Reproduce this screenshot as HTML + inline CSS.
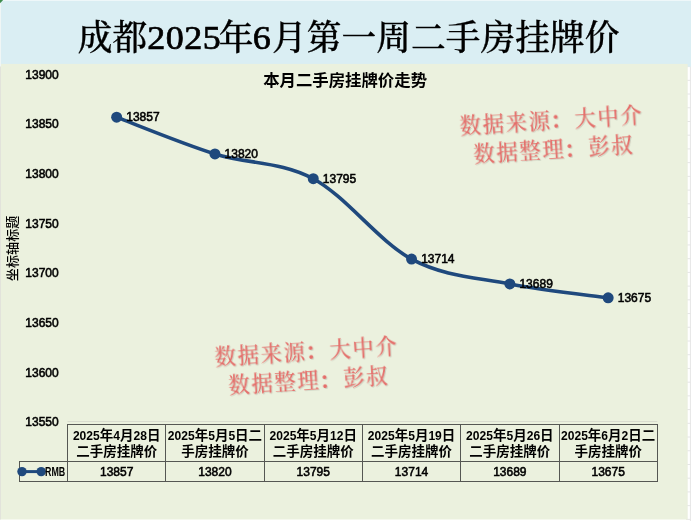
<!DOCTYPE html>
<html lang="zh-CN"><head><meta charset="utf-8"><title>成都2025年6月第一周二手房挂牌价</title>
<style>html,body{margin:0;padding:0;background:#fff;}body{width:691px;height:521px;overflow:hidden;}svg{display:block;}
.ax{font-family:'Liberation Sans','Noto Sans CJK SC',sans-serif;font-size:12px;fill:#000;stroke:#000;stroke-width:0.55px;}
.hd{font-family:'Liberation Sans','Noto Sans CJK SC',sans-serif;font-size:13.5px;font-weight:bold;fill:#000;}
.hn{font-family:'Liberation Sans','Noto Sans CJK SC',sans-serif;font-size:13.5px;font-weight:bold;fill:#000;}
.wm{font-family:'Liberation Serif','Noto Serif CJK SC',serif;font-size:21.6px;font-weight:500;letter-spacing:1.4px;fill:#e56e6a;}
.tt{font-family:'Liberation Serif','Noto Serif CJK SC',serif;font-size:34.74px;font-weight:500;fill:#000;stroke:#000;stroke-width:0.3px;}.tn{font-family:'Liberation Serif','Noto Serif CJK SC',serif;font-size:34px;letter-spacing:0.45px;font-weight:normal;fill:#000;stroke:#000;stroke-width:0.7px;}
.cl{font-weight:700;}
</style></head><body>
<svg width="691" height="521" viewBox="0 0 691 521">
<defs><filter id="glow" x="-5%" y="-20%" width="110%" height="140%"><feGaussianBlur in="SourceAlpha" stdDeviation="0.7" result="b"/><feOffset in="b" dx="0.9" dy="0.9" result="o"/><feFlood flood-color="#8a8f84" flood-opacity="0.3"/><feComposite in2="o" operator="in" result="sh"/><feMerge><feMergeNode in="sh"/><feMergeNode in="SourceGraphic"/></feMerge></filter></defs>
<rect width="691" height="521" fill="#ffffff"/>
<g stroke="#e6e6e6" stroke-width="1"><line x1="686" x2="691" y1="66.60" y2="66.60"/><line x1="686" x2="691" y1="80.32" y2="80.32"/><line x1="686" x2="691" y1="94.04" y2="94.04"/><line x1="686" x2="691" y1="107.76" y2="107.76"/><line x1="686" x2="691" y1="121.48" y2="121.48"/><line x1="686" x2="691" y1="135.20" y2="135.20"/><line x1="686" x2="691" y1="148.92" y2="148.92"/><line x1="686" x2="691" y1="162.64" y2="162.64"/><line x1="686" x2="691" y1="176.36" y2="176.36"/><line x1="686" x2="691" y1="190.08" y2="190.08"/><line x1="686" x2="691" y1="203.80" y2="203.80"/><line x1="686" x2="691" y1="217.52" y2="217.52"/><line x1="686" x2="691" y1="231.24" y2="231.24"/><line x1="686" x2="691" y1="244.96" y2="244.96"/><line x1="686" x2="691" y1="258.68" y2="258.68"/><line x1="686" x2="691" y1="272.40" y2="272.40"/><line x1="686" x2="691" y1="286.12" y2="286.12"/><line x1="686" x2="691" y1="299.84" y2="299.84"/><line x1="686" x2="691" y1="313.56" y2="313.56"/><line x1="686" x2="691" y1="327.28" y2="327.28"/><line x1="686" x2="691" y1="341.00" y2="341.00"/><line x1="686" x2="691" y1="354.72" y2="354.72"/><line x1="686" x2="691" y1="368.44" y2="368.44"/><line x1="686" x2="691" y1="382.16" y2="382.16"/><line x1="686" x2="691" y1="395.88" y2="395.88"/><line x1="686" x2="691" y1="409.60" y2="409.60"/><line x1="686" x2="691" y1="423.32" y2="423.32"/><line x1="686" x2="691" y1="437.04" y2="437.04"/><line x1="686" x2="691" y1="450.76" y2="450.76"/><line x1="686" x2="691" y1="464.48" y2="464.48"/><line x1="686" x2="691" y1="478.20" y2="478.20"/><line x1="686" x2="691" y1="491.92" y2="491.92"/><line x1="686" x2="691" y1="505.64" y2="505.64"/><line x1="686" x2="691" y1="519.36" y2="519.36"/><line x1="690.4" x2="690.4" y1="66" y2="521"/></g>
<rect x="0" y="0" width="691" height="66.7" fill="#daeef3"/>
<rect x="0" y="0" width="691" height="1" fill="#eef7f9"/>
<rect x="0" y="63.9" width="687.3" height="455.6" fill="#ebf1de"/>
<rect x="0" y="0" width="1" height="66.6" fill="#f0f6f5"/>
<rect x="0" y="66.6" width="1" height="452.9" fill="#e2e3db"/>
<rect x="686.6" y="64" width="1" height="455.5" fill="#eaefdf"/>
<path d="M0,0 H3.2 L0,3.2 Z" fill="#1f7a30" opacity="0.85"/>
<text class="tt" x="77.75" y="49.60">成都</text>
<text class="tn" transform="translate(147.2,49.00) scale(1.06,1)">2025</text>
<text class="tt" x="218.7" y="49.60">年</text>
<text class="tn" transform="translate(252.7,49.00) scale(1.06,1)">6</text>
<text class="tt" x="272.05" y="49.60">月第一周二手房挂牌价</text>
<text x="345.1" y="86.1" text-anchor="middle" style="font-family:'Liberation Sans','Noto Sans CJK SC',sans-serif;font-size:16.4px;font-weight:bold;fill:#000;">本月二手房挂牌价走势</text>
<text transform="translate(16.5,248.4) rotate(-90)" text-anchor="middle" style="font-family:'Liberation Sans','Noto Sans CJK SC',sans-serif;font-size:13px;font-weight:500;letter-spacing:0.1px;fill:#000;">坐标轴标题</text>
<text class="ax" x="58.7" y="78.80" text-anchor="end">13900</text>
<text class="ax" x="58.7" y="128.43" text-anchor="end">13850</text>
<text class="ax" x="58.7" y="178.06" text-anchor="end">13800</text>
<text class="ax" x="58.7" y="227.69" text-anchor="end">13750</text>
<text class="ax" x="58.7" y="277.31" text-anchor="end">13700</text>
<text class="ax" x="58.7" y="326.94" text-anchor="end">13650</text>
<text class="ax" x="58.7" y="376.57" text-anchor="end">13600</text>
<text class="ax" x="58.7" y="426.20" text-anchor="end">13550</text>
<line x1="67.5" x2="657.3" y1="421.5" y2="421.5" stroke="#d9dccf" stroke-width="1"/>
<g class="wm" filter="url(#glow)" transform="translate(551.0,127.0) rotate(-3.6)" text-anchor="middle"><text x="0.7" y="0.6">数据来源<tspan class="cl" dx="-1.2" dy="0.8">：</tspan><tspan dx="1.2" dy="-0.8">大中介</tspan></text><text x="1.2" y="30.2">数据整理<tspan class="cl" dx="-1.2" dy="0.8">：</tspan><tspan dx="1.2" dy="-0.8">彭叔</tspan></text></g>
<g class="wm" filter="url(#glow)" transform="translate(306.0,358.1) rotate(-3.6)" text-anchor="middle"><text x="0.7" y="0.6">数据来源<tspan class="cl" dx="-1.2" dy="0.8">：</tspan><tspan dx="1.2" dy="-0.8">大中介</tspan></text><text x="1.2" y="30.2">数据整理<tspan class="cl" dx="-1.2" dy="0.8">：</tspan><tspan dx="1.2" dy="-0.8">彭叔</tspan></text></g>
<path d="M116.65,117.18 C133.03,123.30 182.18,143.65 214.95,153.91 C247.72,164.16 280.48,161.18 313.25,178.72 C346.02,196.26 378.78,241.58 411.55,259.12 C444.32,276.65 477.08,277.48 509.85,283.93 C542.62,290.38 591.77,295.51 608.15,297.83" fill="none" stroke="#1f497d" stroke-width="3.6" stroke-linecap="round" stroke-linejoin="round"/>
<circle cx="116.65" cy="117.18" r="5.5" fill="#1f497d"/>
<circle cx="214.95" cy="153.91" r="5.5" fill="#1f497d"/>
<circle cx="313.25" cy="178.72" r="5.5" fill="#1f497d"/>
<circle cx="411.55" cy="259.12" r="5.5" fill="#1f497d"/>
<circle cx="509.85" cy="283.93" r="5.5" fill="#1f497d"/>
<circle cx="608.15" cy="297.83" r="5.5" fill="#1f497d"/>
<text class="ax" x="126.25" y="121.48">13857</text>
<text class="ax" x="224.55" y="158.21">13820</text>
<text class="ax" x="322.85" y="183.02">13795</text>
<text class="ax" x="421.15" y="263.42">13714</text>
<text class="ax" x="519.45" y="288.23">13689</text>
<text class="ax" x="617.75" y="302.13">13675</text>
<g stroke="#555753" stroke-width="1"><line x1="67.0" x2="658.0" y1="424.5" y2="424.5"/><line x1="19.0" x2="658.0" y1="461.5" y2="461.5"/><line x1="19.0" x2="658.0" y1="481.5" y2="481.5"/><line x1="19.5" x2="19.5" y1="461.5" y2="481.5"/><line x1="67.50" x2="67.50" y1="424.5" y2="481.5"/><line x1="165.50" x2="165.50" y1="424.5" y2="481.5"/><line x1="264.50" x2="264.50" y1="424.5" y2="481.5"/><line x1="362.50" x2="362.50" y1="424.5" y2="481.5"/><line x1="460.50" x2="460.50" y1="424.5" y2="481.5"/><line x1="559.50" x2="559.50" y1="424.5" y2="481.5"/><line x1="657.50" x2="657.50" y1="424.5" y2="481.5"/></g>
<text class="hn" transform="translate(72.88,439.50) scale(0.896,1)">2025</text>
<text class="hd" x="99.76" y="439.50">年</text>
<text class="hn" transform="translate(113.26,439.50) scale(0.896,1)">4</text>
<text class="hd" x="119.98" y="439.50">月</text>
<text class="hn" transform="translate(133.48,439.50) scale(0.896,1)">28</text>
<text class="hd" x="146.92" y="439.50">日</text>
<text class="hd" x="76.15" y="455.70">二手房挂牌价</text>
<text class="ax" x="116.65" y="475.9" text-anchor="middle">13857</text>
<text class="hn" transform="translate(167.79,439.50) scale(0.896,1)">2025</text>
<text class="hd" x="194.67" y="439.50">年</text>
<text class="hn" transform="translate(208.17,439.50) scale(0.896,1)">5</text>
<text class="hd" x="214.89" y="439.50">月</text>
<text class="hn" transform="translate(228.39,439.50) scale(0.896,1)">5</text>
<text class="hd" x="235.11" y="439.50">日二</text>
<text class="hd" x="181.20" y="455.70">手房挂牌价</text>
<text class="ax" x="214.95" y="475.9" text-anchor="middle">13820</text>
<text class="hn" transform="translate(269.48,439.50) scale(0.896,1)">2025</text>
<text class="hd" x="296.36" y="439.50">年</text>
<text class="hn" transform="translate(309.86,439.50) scale(0.896,1)">5</text>
<text class="hd" x="316.58" y="439.50">月</text>
<text class="hn" transform="translate(330.08,439.50) scale(0.896,1)">12</text>
<text class="hd" x="343.52" y="439.50">日</text>
<text class="hd" x="272.75" y="455.70">二手房挂牌价</text>
<text class="ax" x="313.25" y="475.9" text-anchor="middle">13795</text>
<text class="hn" transform="translate(367.78,439.50) scale(0.896,1)">2025</text>
<text class="hd" x="394.66" y="439.50">年</text>
<text class="hn" transform="translate(408.16,439.50) scale(0.896,1)">5</text>
<text class="hd" x="414.88" y="439.50">月</text>
<text class="hn" transform="translate(428.38,439.50) scale(0.896,1)">19</text>
<text class="hd" x="441.82" y="439.50">日</text>
<text class="hd" x="371.05" y="455.70">二手房挂牌价</text>
<text class="ax" x="411.55" y="475.9" text-anchor="middle">13714</text>
<text class="hn" transform="translate(466.08,439.50) scale(0.896,1)">2025</text>
<text class="hd" x="492.96" y="439.50">年</text>
<text class="hn" transform="translate(506.46,439.50) scale(0.896,1)">5</text>
<text class="hd" x="513.18" y="439.50">月</text>
<text class="hn" transform="translate(526.68,439.50) scale(0.896,1)">26</text>
<text class="hd" x="540.12" y="439.50">日</text>
<text class="hd" x="469.35" y="455.70">二手房挂牌价</text>
<text class="ax" x="509.85" y="475.9" text-anchor="middle">13689</text>
<text class="hn" transform="translate(560.99,439.50) scale(0.896,1)">2025</text>
<text class="hd" x="587.87" y="439.50">年</text>
<text class="hn" transform="translate(601.37,439.50) scale(0.896,1)">6</text>
<text class="hd" x="608.09" y="439.50">月</text>
<text class="hn" transform="translate(621.59,439.50) scale(0.896,1)">2</text>
<text class="hd" x="628.31" y="439.50">日二</text>
<text class="hd" x="574.40" y="455.70">手房挂牌价</text>
<text class="ax" x="608.15" y="475.9" text-anchor="middle">13675</text>
<line x1="22" x2="41.2" y1="471.6" y2="471.6" stroke="#1f497d" stroke-width="3"/>
<circle cx="22" cy="471.6" r="4.7" fill="#1f497d"/><circle cx="41.2" cy="471.6" r="4.7" fill="#1f497d"/>
<text x="45" y="475.9" textLength="20.2" lengthAdjust="spacingAndGlyphs" style="font-family:'Liberation Sans','Noto Sans CJK SC',sans-serif;font-size:12px;font-weight:bold;fill:#000;">RMB</text>
</svg></body></html>
